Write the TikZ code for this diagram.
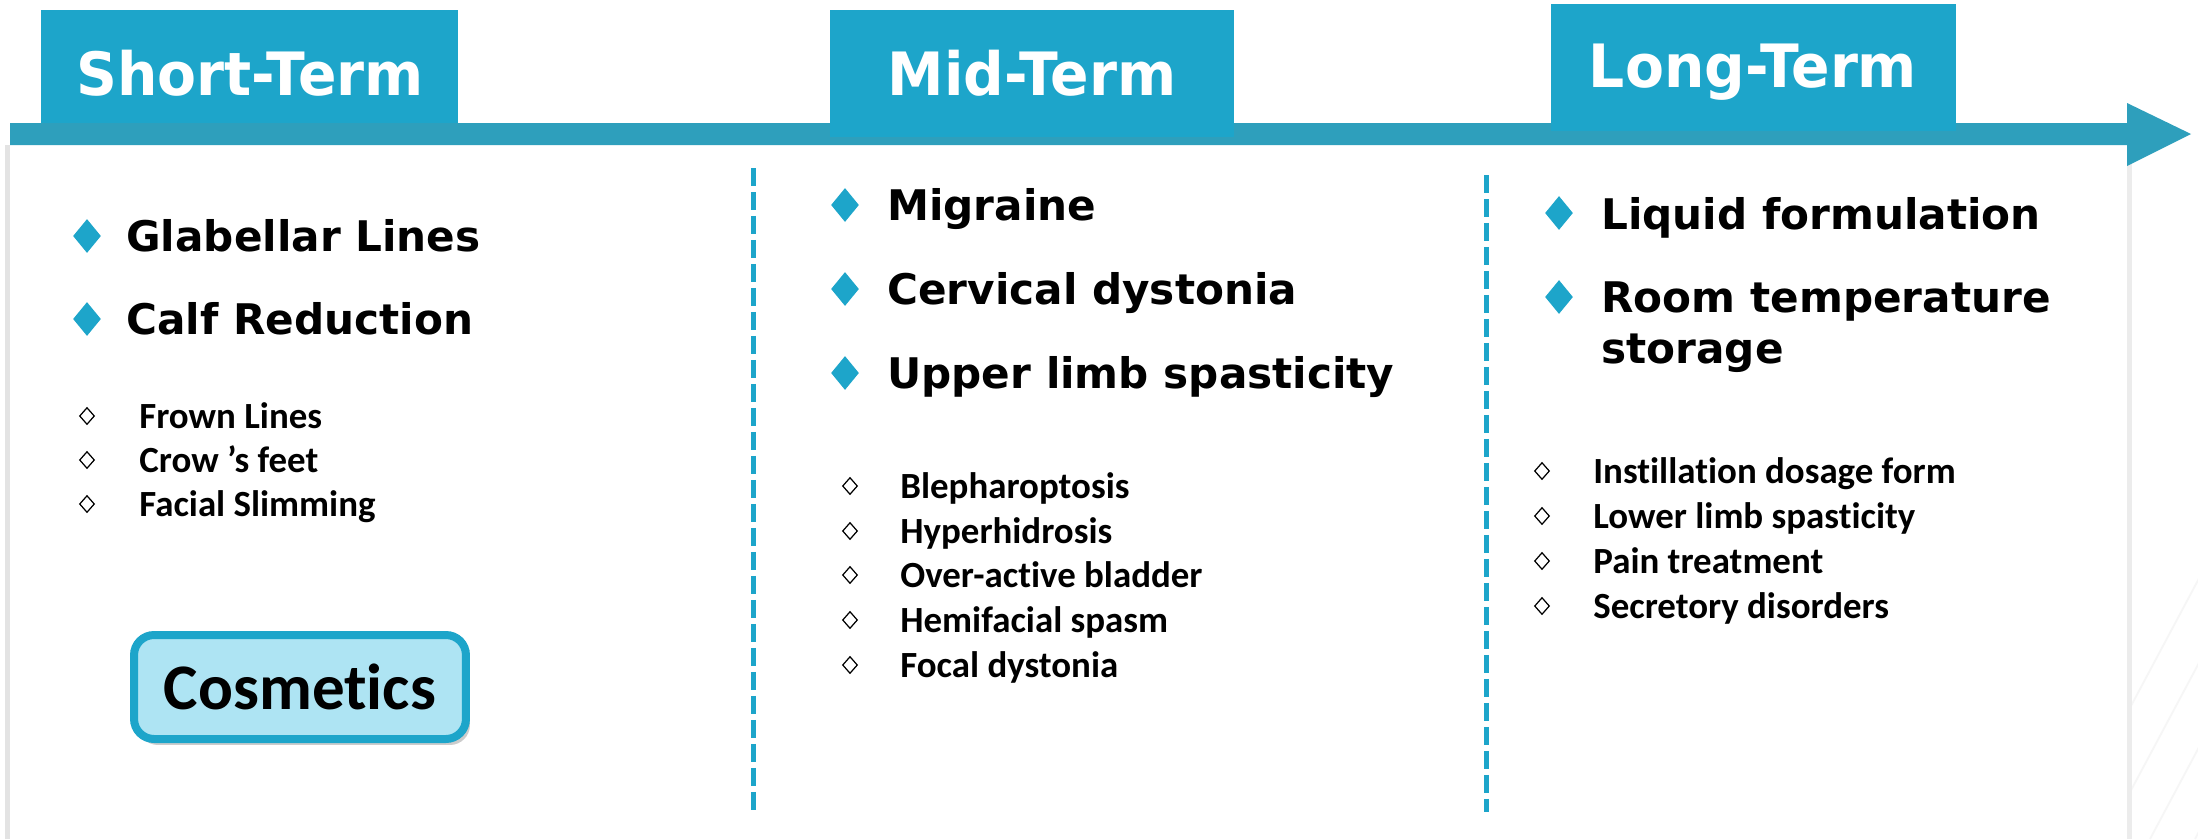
\documentclass[tikz,border=0pt]{standalone}
\usepackage{fontspec}
\setmainfont{Carlito}[Ligatures=NoCommon]
\newfontfamily\dvs{DejaVu Sans}
\newfontfamily\ttl{DejaVu Sans}[FakeStretch=0.95]
\usetikzlibrary{shapes.geometric,shadows}
\definecolor{tabblue}{RGB}{29,165,202}
\definecolor{barblue}{RGB}{46,159,188}
\definecolor{cosfill}{RGB}{174,228,243}
\begin{document}
\begin{tikzpicture}[x=0.02cm,y=-0.02cm,
  tabbox/.style={fill=tabblue, draw=none, inner sep=0},
  tabtext/.style={text=white, font=\ttl\bfseries\fontsize{34}{40}\selectfont, anchor=base, inner sep=0},
  bigitem/.style={anchor=base west, inner sep=0, font=\dvs\bfseries\fontsize{24}{29}\selectfont},
  smallitem/.style={anchor=base west, inner sep=0, font=\bfseries\fontsize{21}{25}\selectfont},
  bigbullet/.style={shape=diamond, fill=tabblue, inner sep=0, minimum width=0.56cm, minimum height=0.68cm},
  smallbullet/.style={shape=diamond, draw=black, line width=0.7pt, inner sep=0, minimum width=0.3cm, minimum height=0.34cm},
  sepline/.style={draw=tabblue, line width=0.1cm, dash pattern=on 0.36cm off 0.12cm},
]
\useasboundingbox (0,0) rectangle (2198,839);
\fill[white] (0,0) rectangle (2198,839);
% faint background stripes
\begin{scope}
  \clip (2131,145) rectangle (2198,839);
  \foreach \k in {0,...,10} {\draw[gray!7, line width=1pt] (2060+\k*45,839) -- ++(160,-300);}
\end{scope}
% panel with shadow
\fill[gray!22] (5,145) rectangle (10,839);
\fill[gray!15] (2127,150) rectangle (2132,839);
\fill[white] (10,145) rectangle (2127,839);
% arrow bar
\fill[barblue] (10,123) -- (2127,123) -- (2127,103) -- (2191,134) -- (2127,166) -- (2127,145) -- (10,145) -- cycle;
% tabs
\node[tabbox, minimum width=8.34cm, minimum height=2.26cm] (tabS) at (249.5,66.5) {};
\node[tabbox, minimum width=8.08cm, minimum height=2.54cm] (tabM) at (1032,73.5) {};
\node[tabbox, minimum width=8.10cm, minimum height=2.54cm] (tabL) at (1753.5,67.5) {};
\node[tabtext] (tS) at (250,95) {Short-Term};
\node[tabtext] (tM) at (1032,95) {Mid-Term};
\node[tabtext] (tL) at (1753,87) {Long-Term};
% separators
\coordinate (s1a) at (753,168);
\coordinate (s1b) at (753,812);
\coordinate (s2a) at (1486,175);
\coordinate (s2b) at (1486,812);
\draw[sepline] (s1a) -- (s1b);
\draw[sepline] (s2a) -- (s2b);
% short-term
\node[bigbullet] (bS1) at (87,236) {};
\node[bigitem] (iS1) at (126,251) {Glabellar Lines};
\node[bigbullet] (bS2) at (87,319) {};
\node[bigitem] (iS2) at (126,334) {Calf Reduction};
\node[smallbullet] (dS1) at (87,416) {};
\node[smallitem] (jS1) at (139,428) {Frown Lines};
\node[smallbullet] (dS2) at (87,460) {};
\node[smallitem] (jS2) at (139,472) {Crow ’s feet};
\node[smallbullet] (dS3) at (87,504) {};
\node[smallitem] (jS3) at (139,516) {Facial Slimming};
\node[rounded corners=0.4cm, fill=cosfill, draw=tabblue, line width=0.16cm,
      minimum width=6.64cm, minimum height=2.08cm, inner sep=0,
      drop shadow={shadow xshift=0.08cm, shadow yshift=-0.12cm, fill=gray, opacity=0.4},
      font=\bfseries\fontsize{37}{44}\selectfont] (cos) at (300,687) {Cosmetics};
% mid-term
\node[bigbullet] (bM1) at (845,205) {};
\node[bigitem] (iM1) at (887,220) {Migraine};
\node[bigbullet] (bM2) at (845,289) {};
\node[bigitem] (iM2) at (887,304) {Cervical dystonia};
\node[bigbullet] (bM3) at (845,373) {};
\node[bigitem] (iM3) at (887,388) {Upper limb spasticity};
\node[smallbullet] (dM1) at (850,486) {};
\node[smallitem] (jM1) at (900,498) {Blepharoptosis};
\node[smallbullet] (dM2) at (850,531) {};
\node[smallitem] (jM2) at (900,543) {Hyperhidrosis};
\node[smallbullet] (dM3) at (850,575) {};
\node[smallitem] (jM3) at (900,587) {Over-active bladder};
\node[smallbullet] (dM4) at (850,620) {};
\node[smallitem] (jM4) at (900,632) {Hemifacial spasm};
\node[smallbullet] (dM5) at (850,665) {};
\node[smallitem] (jM5) at (900,677) {Focal dystonia};
% long-term
\node[bigbullet] (bL1) at (1559,213) {};
\node[bigitem] (iL1) at (1601,229) {Liquid formulation};
\node[bigbullet] (bL2) at (1559,297) {};
\node[bigitem, align=left] (iL2) at (1601,363) {Room temperature\\storage};
\node[smallbullet] (dL1) at (1542,471) {};
\node[smallitem] (jL1) at (1593,483) {Instillation dosage form};
\node[smallbullet] (dL2) at (1542,516) {};
\node[smallitem] (jL2) at (1593,528) {Lower limb spasticity};
\node[smallbullet] (dL3) at (1542,561) {};
\node[smallitem] (jL3) at (1593,573) {Pain treatment};
\node[smallbullet] (dL4) at (1542,606) {};
\node[smallitem] (jL4) at (1593,618) {Secretory disorders};
\end{tikzpicture}
\end{document}
